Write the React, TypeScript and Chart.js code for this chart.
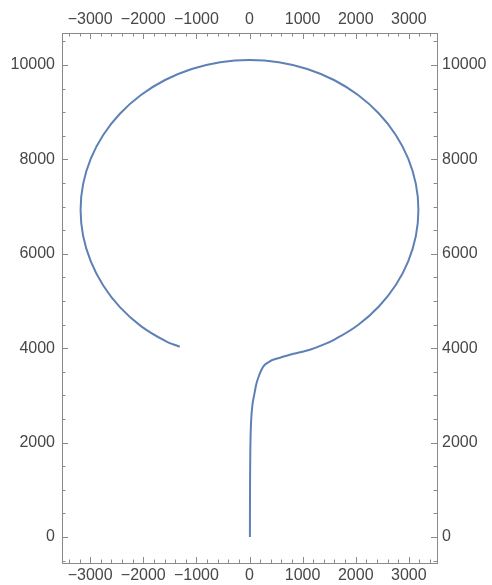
import { useEffect, useRef } from "react";
import { Chart, registerables } from "chart.js";

Chart.register(...registerables);

// Curve points (x, y), in drawing order
const curveX = [
  8, 9, 12, 18, 30, 55, 95, 130, 165, 226, 288, 382, 444, 600, 759, 950, 1136, 1344, 1590, 2044, 2436, 2754,
  2988, 3132, 3180, 3132, 2988, 2754, 2436, 2044, 1590, 1088, 552, 0, -552, -1088, -1590, -2044, -2436,
  -2754, -2988, -3132, -3180, -3132, -2988, -2754, -2436, -2044, -1590, -1313,
];
const curveY = [
  0, 700, 1400, 2000, 2450, 2800, 3050, 3250, 3375, 3545, 3650, 3720, 3756, 3808, 3862, 3915, 3968, 4055,
  4180, 4494, 4886, 5340, 5842, 6378, 6930, 7482, 8018, 8520, 8974, 9366, 9684, 9918, 10062, 10110, 10062,
  9918, 9684, 9366, 8974, 8520, 8018, 7482, 6930, 6378, 5842, 5330, 4865, 4470, 4158, 4032,
];

const xTickValues = [-3000, -2000, -1000, 0, 1000, 2000, 3000];
const yTickValues = [0, 2000, 4000, 6000, 8000, 10000];
const xMinorValues = [
  -3400, -3200, -2800, -2600, -2400, -2200, -1800, -1600, -1400, -1200, -800, -600, -400, -200, 200, 400,
  600, 800, 1200, 1400, 1600, 1800, 2200, 2400, 2600, 2800, 3200, 3400,
];
const yMinorValues = [
  -500, 500, 1000, 1500, 2500, 3000, 3500, 4500, 5000, 5500, 6500, 7000, 7500, 8500, 9000, 9500, 10500,
];

const X_MIN = -3530;
const X_MAX = 3530;
const Y_MIN = -550;
const Y_MAX = 10680;

const FRAME = "#8a8a8a";
const LABEL = "#474747";
const LINE = "rgb(94,129,181)";

const fmt = (v: number) => (v < 0 ? "\u2212" + Math.abs(v) : String(v));

const frameTicks = {
  id: "frameTicks",
  afterDraw(chart: any) {
    const ctx = chart.ctx;
    const { left, right, top, bottom } = chart.chartArea;
    const xs = chart.scales.x;
    const ys = chart.scales.y;
    ctx.save();
    ctx.strokeStyle = FRAME;
    ctx.lineWidth = 1;
    const seg = (x1: number, y1: number, x2: number, y2: number) => {
      ctx.beginPath();
      ctx.moveTo(x1, y1);
      ctx.lineTo(x2, y2);
      ctx.stroke();
    };
    const xt = (vals: number[], len: number) => {
      for (const v of vals) {
        const p = Math.round(xs.getPixelForValue(v)) + 0.5;
        seg(p, bottom, p, bottom - len);
        seg(p, top, p, top + len);
      }
    };
    const yt = (vals: number[], len: number) => {
      for (const v of vals) {
        const p = Math.round(ys.getPixelForValue(v)) + 0.5;
        seg(left, p, left + len, p);
        seg(right, p, right - len, p);
      }
    };
    xt(xTickValues, 6);
    xt(xMinorValues, 3.5);
    yt(yTickValues, 6);
    yt(yMinorValues, 3.5);
    ctx.restore();
  },
};

export default function App() {
  const ref = useRef<HTMLCanvasElement | null>(null);
  useEffect(() => {
    document.body.style.margin = "0";
    if (!ref.current) return;
    const font = { family: "'Liberation Sans', Arial, sans-serif", size: 16 };
    const xAxis = (position: string, height: number, pad: number) => ({
      type: "linear",
      position,
      min: X_MIN,
      max: X_MAX,
      display: true,
      grid: { display: false, drawTicks: false },
      border: { display: true, color: FRAME, width: 1 },
      ticks: { color: LABEL, font, padding: pad, maxRotation: 0, callback: (v: any) => fmt(Number(v)) },
      afterBuildTicks: (s: any) => {
        s.ticks = xTickValues.map((value) => ({ value }));
      },
      afterFit: (s: any) => {
        s.height = height;
      },
    });
    const yAxis = (position: string, width: number, pad: number) => ({
      type: "linear",
      position,
      min: Y_MIN,
      max: Y_MAX,
      display: true,
      grid: { display: false, drawTicks: false },
      border: { display: true, color: FRAME, width: 1 },
      ticks: { color: LABEL, font, padding: pad, callback: (v: any) => fmt(Number(v)) },
      afterBuildTicks: (s: any) => {
        s.ticks = yTickValues.map((value) => ({ value }));
      },
      afterFit: (s: any) => {
        s.width = width;
      },
    });
    const chart = new Chart(ref.current, {
      type: "line",
      data: {
        datasets: [
          {
            data: curveX.map((x, i) => ({ x, y: curveY[i] })),
            borderColor: LINE,
            borderWidth: 2,
            pointRadius: 0,
            tension: 0.4,
            fill: false,
            xAxisID: "x",
            yAxisID: "y",
          },
        ],
      },
      options: {
        animation: false,
        responsive: false,
        layout: { padding: 0 },
        plugins: { legend: { display: false }, tooltip: { enabled: false } },
        scales: {
          x: xAxis("bottom", 22, 3),
          x2: xAxis("top", 33, 4),
          y: yAxis("left", 62, 7),
          y2: yAxis("right", 55, 5),
        } as any,
      },
      plugins: [frameTicks],
    });
    return () => chart.destroy();
  }, []);
  return <canvas ref={ref} width={492} height={585} style={{ display: "block" }} />;
}
